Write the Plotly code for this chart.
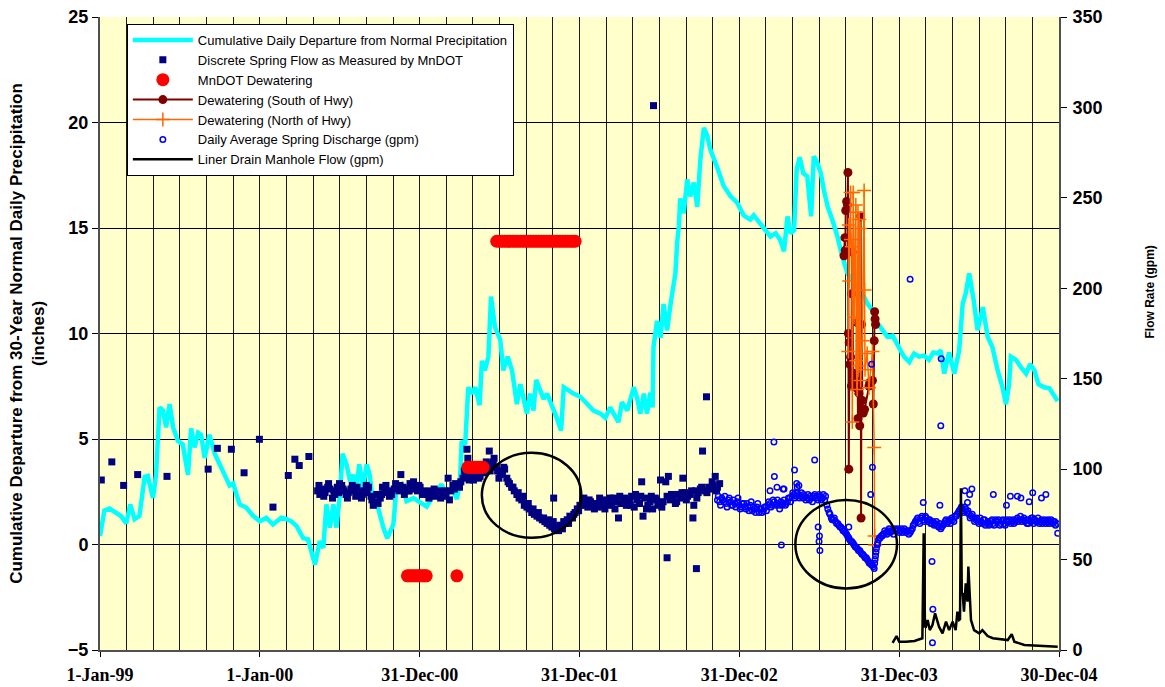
import pandas as pd
import plotly.graph_objects as go

# ---------------------------------------------------------------------------
# Data (x values are days elapsed since 1 Jan 1999)
# ---------------------------------------------------------------------------
RECORD_START = "1999-01-01"

# Cumulative daily departure from 30-year normal precipitation (inches)
precip_day = [
    0, 10, 22, 37, 48, 60, 69, 79, 90, 102, 109, 121, 128, 136, 144, 151, 159,
    167, 178, 189, 201, 208, 216, 224, 231, 239, 250, 262, 281, 296, 304, 319,
    334, 350, 365, 380, 395, 414, 426, 437, 449, 464, 475, 491, 502, 510, 517,
    525, 533, 540, 548, 554, 563, 571, 578, 586, 592, 601, 609, 616, 624, 635,
    647, 656, 670, 677, 689, 700, 716, 731, 746, 758, 769, 780, 792, 803, 815,
    822, 826, 834, 841, 849, 857, 867, 872, 879, 887, 893, 902, 914, 921, 931,
    941, 952, 960, 967, 975, 982, 990, 996, 1005, 1013, 1021, 1032, 1043, 1053,
    1059, 1070, 1081, 1097, 1112, 1127, 1143, 1154, 1165, 1173, 1184, 1192,
    1204, 1219, 1226, 1234, 1242, 1249, 1257, 1262, 1264, 1272, 1280, 1287,
    1295, 1303, 1310, 1314, 1318, 1322, 1325, 1333, 1341, 1348, 1356, 1364,
    1371, 1379, 1387, 1394, 1409, 1424, 1440, 1455, 1470, 1485, 1493, 1505,
    1520, 1531, 1543, 1553, 1562, 1570, 1577, 1585, 1591, 1598, 1606, 1615,
    1624, 1630, 1638, 1646, 1653, 1662, 1672, 1684, 1695, 1707, 1718, 1730,
    1741, 1753, 1764, 1775, 1787, 1798, 1810, 1821, 1836, 1848, 1859, 1871,
    1882, 1893, 1903, 1913, 1920, 1928, 1939, 1951, 1962, 1970, 1977, 1985,
    1995, 2004, 2016, 2027, 2038, 2050, 2061, 2069, 2076, 2080, 2092, 2103,
    2115, 2124, 2134, 2143, 2156, 2168, 2179, 2187,
]
precip_dep = [
    0.4, 1.6, 1.7, 1.5, 1.35, 1.0, 1.9, 1.2, 1.35, 3.2, 3.25, 2.2, 3.3, 6.5,
    6.35, 5.55, 6.65, 5.55, 4.9, 4.75, 3.3, 5.5, 4.6, 5.3, 5.2, 4.1, 5.2, 4.3,
    3.5, 2.8, 2.9, 1.9, 1.75, 1.35, 1.1, 1.27, 0.95, 1.27, 1.2, 1.1, 0.87, 0.3,
    0.24, -0.95, 0.16, -0.16, 1.9, 0.8, 1.9, 0.8, 2.4, 4.3, 3.8, 3.0, 3.3, 2.7,
    3.8, 2.7, 3.8, 3.3, 1.9, 1.75, 0.8, 0.3, 0.95, 2.7, 2.85, 2.05, 2.2, 2.0,
    1.8, 2.2, 2.55, 2.85, 2.3, 2.7, 2.15, 3.0, 4.9, 4.75, 7.45, 7.15, 7.45,
    6.6, 8.7, 8.25, 8.9, 11.75, 10.3, 9.7, 8.25, 8.9, 8.25, 6.65, 7.6, 7.0,
    6.2, 7.15, 6.35, 7.8, 7.3, 6.9, 7.15, 6.6, 6.0, 5.4, 7.45, 7.3, 7.15, 7.0,
    6.65, 6.35, 6.2, 6.0, 6.5, 6.2, 5.8, 6.75, 6.35, 7.45, 7.0, 6.2, 7.15,
    6.2, 7.2, 6.5, 9.35, 10.6, 9.8, 11.4, 10.15, 11.4, 12.2, 12.85, 14.3,
    15.1, 16.4, 15.7, 17.3, 16.5, 17.15, 16.0, 18.25, 19.75, 19.35, 18.7,
    17.9, 17.0, 16.5, 16.2, 15.6, 15.4, 15.6, 15.3, 14.9, 14.6, 14.75, 14.45,
    13.9, 15.55, 14.75, 14.9, 17.8, 18.35, 17.6, 17.45, 15.55, 18.4, 18.1,
    17.6, 16.8, 16.0, 15.4, 14.6, 13.65, 12.85, 12.55, 12.2, 11.9, 11.4, 11.1,
    10.5, 10.15, 9.85, 9.9, 9.5, 8.9, 8.65, 9.05, 8.9, 8.95, 8.75, 9.1, 9.05,
    9.2, 8.1, 9.1, 8.1, 9.2, 11.4, 11.9, 12.85, 11.6, 10.15, 11.25, 9.85,
    9.35, 8.25, 7.45, 6.65, 7.6, 8.9, 8.75, 8.4, 8.1, 8.55, 8.25, 7.6, 7.45,
    7.4, 7.05, 6.8,
]

# Discrete spring flow measured by MnDOT (gpm)
spring_day = [
    3, 27, 54, 86, 153, 247, 268, 300, 329, 364, 395, 430, 445, 455, 477,
    497, 502, 508, 514, 520, 525, 531, 536, 542, 547, 552, 557, 562, 567, 573,
    578, 584, 590, 597, 602, 608, 613, 619, 624, 630, 635, 640, 645, 650, 655,
    661, 666, 672, 677, 683, 687, 692, 697, 703, 708, 714, 719, 725, 731, 736,
    742, 748, 754, 760, 766, 772, 778, 784, 790, 795, 801, 806, 812, 818, 824,
    829, 834, 838, 840, 845, 850, 856, 862, 868, 873, 879, 885, 889, 893, 898,
    903, 908, 914, 919, 924, 929, 935, 940, 946, 952, 957, 963, 969, 975, 980,
    986, 992, 998, 1004, 1010, 1016, 1021, 1027, 1032, 1036, 1038, 1044, 1050,
    1056, 1062, 1067, 1073, 1079, 1085, 1090, 1096, 1102, 1108, 1114, 1120,
    1126, 1132, 1138, 1144, 1150, 1156, 1162, 1168, 1173, 1179, 1184, 1190,
    1196, 1202, 1208, 1214, 1220, 1226, 1232, 1237, 1240, 1245, 1251, 1256,
    1262, 1264, 1268, 1274, 1280, 1286, 1292, 1295, 1298, 1302, 1308, 1314,
    1320, 1326, 1331, 1336, 1342, 1348, 1354, 1356, 1360, 1362, 1366, 1371,
    1376, 1381, 1385, 1390, 1395, 1400, 1405, 1410, 1415,
    # second reading of the day where two samples were taken
    500, 511, 522, 534, 545, 555, 565, 576, 587, 599,
    610, 621, 632, 643, 653, 664, 675, 685, 695, 706,
    716, 728, 739, 751, 763, 775, 787, 798, 809, 821,
    832, 843, 853, 865, 876, 882, 891, 900, 911, 922,
    932, 943, 955, 966, 978, 989, 1001, 1013, 1024, 1035,
    1047, 1059, 1070, 1082, 1093, 1105, 1117, 1129, 1141, 1153,
    1165, 1176, 1187, 1199, 1211, 1223, 1235, 1248, 1259, 1271,
    1283, 1295, 1305, 1317, 1329, 1339, 1351, 1363, 1374, 1386,
    1398, 1408,
]
spring_gpm = [
    94, 104, 91, 97, 96, 100, 111.5, 111, 98, 116.5, 79, 96.5, 105.5, 102, 107,
    88, 86, 89, 87, 90, 89, 84, 86, 90, 92, 91, 88, 86, 87, 89,
    88, 85, 87, 84, 88, 91, 90, 85, 80, 82, 81, 84, 90, 88, 87,
    85, 86, 89, 90, 88, 97, 90, 89, 88, 92, 90, 89, 88, 90, 86,
    87, 86, 88, 87, 85, 86, 84, 85, 86, 95, 88, 91, 92, 91, 93,
    95, 97, 111, 106, 96, 98, 97, 99, 96, 100, 101, 103, 110, 102, 104,
    101, 99, 97, 98, 100, 95, 92, 90, 88, 86, 84, 83, 80, 79, 78,
    76, 75, 74, 73, 72, 71, 70, 69, 68, 84, 67, 68, 69,
    67, 70, 72, 74, 73, 76, 78, 80, 82, 80, 79, 82,
    80, 81, 79, 82, 80, 83, 81, 80, 84, 82, 73, 81,
    83, 80, 82, 85, 79, 83, 81, 93, 74, 84, 80, 82,
    78, 301, 84, 80, 94, 82, 93, 51, 96, 83, 85, 81,
    86, 84, 95, 87, 85, 86, 73, 80, 88, 45, 87, 89,
    110, 88, 140, 90, 89, 91, 96, 90, 92,
    91, 85, 92, 88, 87, 89, 84, 91, 90, 86,
    87, 83, 86, 86, 91, 88, 92, 91, 86, 88,
    93, 91, 88, 84, 89, 88, 88, 83, 89, 90,
    99, 94, 94, 95, 98, 104, 99, 106, 95, 101,
    93, 90, 87, 85, 81, 78, 76, 73, 72, 71,
    66, 71, 70, 75, 77, 84, 83, 78, 84, 78,
    84, 78, 85, 84, 80, 86, 85, 78, 85, 83,
    79, 85, 86, 82, 87, 83, 88, 84, 90, 87,
    93, 88,
]

# MnDOT dewatering (gpm)
mndot_day = [
    702, 707, 712, 717, 722, 727, 732, 737, 742, 745,
    815,
    840, 845, 850, 855, 860, 865, 870, 875,
    906, 912, 918, 924, 930, 936, 942, 948, 954, 960, 966, 972, 978, 984,
    990, 996, 1002, 1008, 1014, 1020, 1026, 1032, 1038, 1044, 1050, 1056,
    1062, 1068, 1074, 1080, 1085,
]
mndot_gpm = [
    41, 41, 41, 41, 41, 41, 41, 41, 41, 41,
    41,
    101, 101, 101, 101, 101, 101, 101, 101,
    226, 226, 226, 226, 226, 226, 226, 226, 226, 226, 226, 226, 226, 226,
    226, 226, 226, 226, 226, 226, 226, 226, 226, 226, 226, 226,
    226, 226, 226, 226, 226,
]

# Dewatering south of highway (gpm)
south_day = [
    1699, 1701, 1702, 1703, 1705, 1707, 1708, 1709, 1710, 1711, 1712, 1714,
    1716, 1717, 1718, 1720, 1724, 1727, 1729, 1731, 1733, 1735, 1737, 1738,
    1739, 1741, 1743, 1746, 1756, 1758, 1764, 1766, 1768, 1769, 1770, 1771,
]
south_gpm = [
    218, 228, 221, 243, 248, 246, 264, 175, 100, 170, 158, 162,
    146, 197, 220, 153, 149, 145, 181, 128, 142, 124, 240, 73,
    180, 138, 131, 133, 146, 148, 149, 136, 171, 187, 183, 180,
]

# Dewatering north of highway (gpm)
north_day = [
    1709, 1710, 1711, 1714, 1715, 1717, 1718, 1720, 1722, 1726, 1727, 1729,
    1731, 1733, 1734, 1736, 1737, 1741, 1745, 1746, 1747, 1752, 1756, 1764,
    1768, 1769, 1770,
]
north_gpm = [
    165, 235, 204, 253, 227, 223, 126, 253, 184, 246, 160, 144,
    242, 157, 238, 233, 149, 171, 254, 199, 155, 164, 145, 165,
    112, 63, 58,
]

# Daily average spring discharge (gpm)
daily_day = [
    1410, 1415, 1420, 1425, 1430, 1435, 1440, 1445, 1450, 1455, 1460, 1465,
    1470, 1475, 1480, 1485, 1490, 1495, 1500, 1505, 1510, 1515, 1520, 1525,
    1530, 1535, 1540, 1545, 1550, 1555, 1560, 1565, 1570, 1575, 1580, 1585,
    1590, 1595, 1600, 1605, 1610, 1615, 1620, 1625, 1630, 1635, 1640, 1645,
    1650, 1655, 1660, 1665, 1670, 1675, 1680, 1685, 1690, 1695, 1700, 1705,
    1710, 1715, 1720, 1725, 1730, 1735, 1740, 1745, 1750, 1755, 1760, 1764,
    1768, 1770, 1772, 1775, 1778, 1782, 1786, 1790, 1795, 1800, 1805, 1810,
    1815, 1820, 1825, 1830, 1835, 1840, 1845, 1850, 1855, 1860, 1865, 1870,
    1875, 1880, 1885, 1890, 1895, 1900, 1905, 1910, 1915, 1920, 1925, 1930,
    1935, 1940, 1945, 1950, 1955, 1960, 1965, 1970, 1975, 1980, 1985, 1990,
    1995, 2000, 2005, 2010, 2015, 2020, 2025, 2030, 2035, 2040, 2045, 2050,
    2055, 2060, 2065, 2070, 2075, 2080, 2085, 2090, 2095, 2100, 2105, 2110,
    2115, 2120, 2125, 2130, 2135, 2140, 2145, 2150, 2155, 2160, 2165, 2170,
    2175, 2180, 2185,
    # mid-interval readings
    1412, 1417, 1422, 1427, 1432, 1437, 1442, 1447, 1452, 1457,
    1462, 1467, 1472, 1477, 1482, 1487, 1492, 1497, 1502, 1507,
    1512, 1517, 1522, 1527, 1532, 1537, 1542, 1547, 1552, 1557,
    1562, 1567, 1572, 1577, 1582, 1587, 1592, 1597, 1602, 1607,
    1612, 1617, 1622, 1627, 1632, 1637, 1642, 1647, 1652, 1657,
    1662, 1667, 1672, 1677, 1682, 1687, 1692, 1697, 1702, 1707,
    1712, 1717, 1722, 1727, 1732, 1737, 1742, 1747, 1752, 1757,
    1762, 1766, 1769, 1771, 1773, 1776, 1780, 1784, 1788, 1792,
    1797, 1802, 1807, 1812, 1817, 1822, 1827, 1832, 1837, 1842,
    1847, 1852, 1857, 1862, 1867, 1872, 1877, 1882, 1887, 1892,
    1897, 1902, 1907, 1912, 1917, 1922, 1927, 1932, 1937, 1942,
    1947, 1952, 1957, 1962, 1967, 1972, 1977, 1982, 1987, 1992,
    1997, 2002, 2007, 2012, 2017, 2022, 2027, 2032, 2037, 2042,
    2047, 2052, 2057, 2062, 2067, 2072, 2077, 2082, 2087, 2092,
    2097, 2102, 2107, 2112, 2117, 2122, 2127, 2132, 2137, 2142,
    2147, 2152, 2157, 2162, 2167, 2172, 2177, 2182,
    # scattered readings
    1539, 1540, 1632, 1586, 1562, 1592, 1640, 1643, 1642, 1644, 1556, 1710,
    1764, 1760, 1920, 1918, 1900, 1902, 1901, 2079, 2070, 2103, 2122, 1981,
    1970, 1880, 2187, 1850, 1921, 1762, 2040, 2095, 2130, 2150, 2160, 1975,
    1986, 1991, 1530, 1546, 1560, 1591, 1596,
]
daily_gpm = [
    83, 82, 84, 82, 81, 83, 82, 80, 81, 82, 80, 79,
    81, 78, 79, 80, 77, 78, 79, 76, 78, 77, 79, 80,
    81, 80, 82, 81, 80, 82, 81, 80, 82, 84, 85, 86,
    85, 86, 85, 84, 85, 84, 83, 84, 85, 84, 83, 85,
    84, 83, 80, 76, 73, 72, 71, 70, 68, 67, 66, 64,
    62, 60, 59, 57, 56, 55, 53, 52, 51, 49, 48, 47,
    45, 50, 54, 58, 61, 62, 63, 64, 65, 66, 65, 66,
    67, 66, 65, 67, 66, 65, 66, 65, 67, 70, 72, 71,
    73, 72, 74, 71, 72, 70, 69, 71, 68, 67, 69, 71,
    70, 72, 73, 71, 74, 76, 78, 77, 79, 76, 75, 74,
    73, 72, 71, 73, 70, 72, 70, 69, 71, 70, 72, 71,
    69, 71, 70, 72, 71, 70, 72, 71, 73, 72, 71, 73,
    72, 70, 71, 73, 72, 71, 70, 72, 71, 70, 72, 71,
    70, 71, 70,
    85, 80, 83, 85, 79, 84, 80, 83, 79, 84,
    78, 81, 79, 81, 77, 82, 79, 76, 81, 78,
    76, 79, 77, 82, 79, 83, 80, 83, 78, 80,
    83, 81, 84, 82, 87, 84, 87, 84, 87, 86,
    83, 86, 85, 82, 86, 85, 86, 83, 86, 85,
    78, 75, 72, 73, 70, 69, 68, 66, 65, 63,
    61, 60, 58, 57, 55, 54, 53, 51, 50, 48,
    47, 46, 48, 52, 56, 59, 62, 63, 64, 66,
    64, 67, 66, 64, 66, 67, 66, 65, 67, 66,
    64, 66, 69, 71, 73, 70, 74, 71, 73, 72,
    70, 71, 70, 69, 70, 68, 70, 72, 71, 70,
    72, 74, 75, 77, 79, 76, 78, 77, 73, 75,
    71, 73, 70, 71, 72, 69, 71, 70, 72, 69,
    71, 72, 70, 72, 69, 71, 72, 71, 70, 72,
    71, 74, 72, 71, 70, 72, 73, 70, 71, 73,
    71, 70, 72, 71, 70, 72, 71, 69,
    115, 96, 105, 99.5, 89, 90, 68, 63, 60, 55, 58, 68,
    101, 86, 124, 80, 49, 22.5, 4, 85, 80, 84, 82, 81.5,
    78, 81.5, 64.5, 205, 161, 158, 86, 85, 87, 84, 86, 88,
    86, 89, 88, 90, 89, 92, 91,
]

# Liner drain manhole flow (gpm)
liner_day = [
    1810, 1819, 1825, 1840, 1860, 1878, 1881, 1884, 1886, 1890, 1895, 1901,
    1907, 1916, 1924, 1932, 1939, 1947, 1954, 1958, 1962, 1964, 1966, 1968,
    1970, 1973, 1977, 1981, 1983, 1989, 1996, 2008, 2015, 2027, 2039, 2073,
    2082, 2088, 2111, 2149, 2187,
]
liner_gpm = [
    4, 7.7, 4.6, 4.5, 5, 6.5, 64.5, 13, 12.9, 16.6, 11, 13.8,
    20.3, 12.9, 9.2, 15.7, 11, 15.7, 11, 21.2, 16.6, 17, 89.4, 31,
    31.4, 21.2, 36.9, 26.7, 46.1, 16.6, 11, 9.2, 11, 7.7, 6.5, 5.5,
    8.8, 4.6, 2.8, 2.4, 1.8,
]

# Highlighted periods of spring-flow decline: (start day, end day, low gpm, high gpm)
highlight_periods = [
    (872, 1099, 62, 109),
    (1588, 1820, 34, 83),
]

DAY_MS = 86400000
YEAR_MS = 365 * DAY_MS


def to_dates(days):
    return pd.Timestamp(RECORD_START) + pd.to_timedelta(days, unit="D")


fig = go.Figure()

fig.add_trace(go.Scatter(
    x=to_dates(precip_day), y=precip_dep, mode="lines",
    name="Cumulative Daily Departure from Normal Precipitation",
    line=dict(color="#00FFFF", width=4.5),
    yaxis="y",
))
fig.add_trace(go.Scatter(
    x=to_dates(spring_day), y=spring_gpm, mode="markers",
    name="Discrete Spring Flow as Measured by MnDOT",
    marker=dict(symbol="square", size=7, color="#000080"),
    yaxis="y2",
))
fig.add_trace(go.Scatter(
    x=to_dates(mndot_day), y=mndot_gpm, mode="markers",
    name="MnDOT Dewatering",
    marker=dict(symbol="circle", size=13, color="#FF0000"),
    yaxis="y2",
))
fig.add_trace(go.Scatter(
    x=to_dates(south_day), y=south_gpm, mode="lines+markers",
    name="Dewatering (South of Hwy)",
    line=dict(color="#800000", width=2),
    marker=dict(symbol="circle", size=9, color="#800000"),
    yaxis="y2",
))
fig.add_trace(go.Scatter(
    x=to_dates(north_day), y=north_gpm, mode="lines+markers",
    name="Dewatering (North of Hwy)",
    line=dict(color="#FF6600", width=1.5),
    marker=dict(symbol="cross-thin", size=10, color="#FF6600",
                line=dict(color="#FF6600", width=1.5)),
    yaxis="y2",
))
fig.add_trace(go.Scatter(
    x=to_dates(daily_day), y=daily_gpm, mode="markers",
    name="Daily Average Spring Discharge (gpm)",
    marker=dict(symbol="circle-open", size=5.5, color="#0000FF",
                line=dict(color="#0000FF", width=1.5)),
    yaxis="y2",
))
fig.add_trace(go.Scatter(
    x=to_dates(liner_day), y=liner_gpm, mode="lines",
    name="Liner Drain Manhole Flow (gpm)",
    line=dict(color="#000000", width=2.5),
    yaxis="y2",
))

for d0, d1, g0, g1 in highlight_periods:
    fig.add_shape(
        type="circle", xref="x", yref="y2",
        x0=to_dates(d0), x1=to_dates(d1), y0=g0, y1=g1,
        line=dict(color="#000000", width=2.5), layer="above",
    )

sans = "Liberation Sans, Arial, sans-serif"
serif = "Liberation Serif, Times New Roman, serif"

# Title of the flow-rate axis, set a little above the axis midpoint
fig.add_annotation(
    text="Flow Rate (gpm)", textangle=-90,
    xref="paper", yref="paper", x=1.095, y=0.565,
    xanchor="center", yanchor="middle", showarrow=False,
    font=dict(family=sans, size=12, color="#000000", weight="bold"),
)

fig.update_layout(
    width=1165, height=687,
    margin=dict(l=100, r=106, t=17, b=37, autoexpand=False),
    paper_bgcolor="#FFFFFF",
    plot_bgcolor="#FFFFCC",
    font=dict(family=sans, color="#000000"),
    showlegend=True,
    legend=dict(
        x=0.028, y=0.989, xanchor="left", yanchor="top",
        bgcolor="#FFFFFF", bordercolor="#000000", borderwidth=1,
        font=dict(family=sans, size=13, color="#000000"),
        itemwidth=60, traceorder="normal",
    ),
    xaxis=dict(
        type="date",
        range=[RECORD_START, "2004-12-30"],
        tick0=RECORD_START, dtick=YEAR_MS,
        tickformat="%-d-%b-%y",
        tickfont=dict(family=serif, size=18, color="#000000", weight="bold"),
        ticks="outside", ticklen=5, tickcolor="#000000",
        ticklabelstandoff=2,
        showgrid=True, gridcolor="#1a1a1a", gridwidth=1,
        minor=dict(dtick=YEAR_MS / 6, tick0=RECORD_START, showgrid=True,
                   gridcolor="#1a1a1a", gridwidth=1),
        showline=True, linecolor="#505050", linewidth=2,
        zeroline=False, automargin=False,
    ),
    yaxis=dict(
        range=[-5, 25], dtick=5,
        title=dict(
            text="Cumulative Departure from 30-Year Normal Daily Precipitation<br>(inches)",
            font=dict(family=sans, size=17, color="#000000", weight="bold"),
            standoff=19,
        ),
        tickfont=dict(family=sans, size=18, color="#000000", weight="bold"),
        ticks="outside", ticklen=6, tickcolor="#000000",
        showgrid=True, gridcolor="#000000", gridwidth=1,
        showline=True, linecolor="#505050", linewidth=2,
        zeroline=False, automargin=False,
    ),
    yaxis2=dict(
        range=[0, 350], dtick=50,
        overlaying="y", side="right",
        tickfont=dict(family=sans, size=18, color="#000000", weight="bold"),
        ticks="outside", ticklen=6, tickcolor="#000000",
        ticklabelstandoff=2,
        showgrid=False,
        showline=True, linecolor="#505050", linewidth=2,
        zeroline=False, automargin=False,
    ),
)

fig.write_html("out.html")
